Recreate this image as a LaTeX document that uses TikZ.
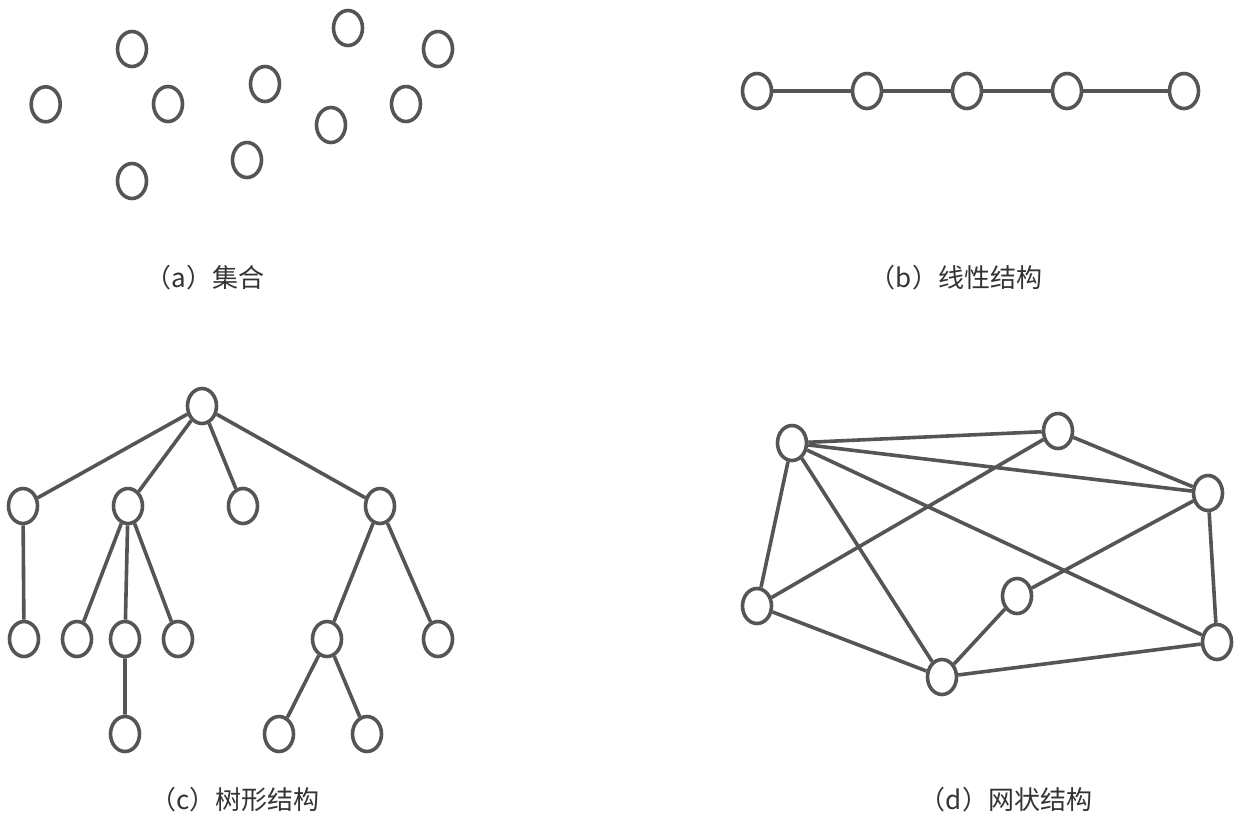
\documentclass[tikz,border=0pt]{standalone}
\usepackage{fontspec}
\newfontfamily\cjk{Noto Sans CJK SC}
\definecolor{ln}{HTML}{555555}
\definecolor{tx}{HTML}{333333}
\tikzset{
  nd/.style={draw=ln, line width=3.6pt, ellipse, minimum width=29pt, minimum height=35pt, inner sep=0pt, fill=white},
  ed/.style={draw=ln, line width=3.6pt},
  lab/.style={text=tx, font=\cjk\fontsize{26}{30}\selectfont, inner sep=0pt}
}
\usetikzlibrary{shapes.geometric}
\begin{document}
\begin{tikzpicture}[x=1pt,y=-1pt]
\useasboundingbox (0,0) rectangle (1260,839);
% (a)
\node[nd] (a1) at (45.7,104.3) {};
\node[nd] (a2) at (132,49) {};
\node[nd] (a3) at (168,104) {};
\node[nd] (a4) at (132,181) {};
\node[nd] (a5) at (265,84) {};
\node[nd] (a6) at (247,160) {};
\node[nd] (a7) at (348,28) {};
\node[nd] (a8) at (331,125) {};
\node[nd] (a9) at (438,49) {};
\node[nd] (a10) at (406,104) {};
\node[lab] (la) at (205,278) {（a）集合};
% (b)
\node[nd] (b1) at (757,91) {};
\node[nd] (b2) at (867,91) {};
\node[nd] (b3) at (967,91) {};
\node[nd] (b4) at (1067,91) {};
\node[nd] (b5) at (1184,91) {};
\draw[ed] (b1) -- (b2) (b2) -- (b3) (b3) -- (b4) (b4) -- (b5);
\node[lab] (lb) at (956,278) {（b）线性结构};
% (c)
\node[nd] (r) at (202,406) {};
\node[nd] (c1) at (23,506) {};
\node[nd] (c2) at (128,506) {};
\node[nd] (c3) at (243,506) {};
\node[nd] (c4) at (380,506) {};
\node[nd] (d1) at (24,639) {};
\node[nd] (d2) at (77,639) {};
\node[nd] (d3) at (125,639) {};
\node[nd] (d4) at (178,639) {};
\node[nd] (d5) at (327,639) {};
\node[nd] (d6) at (438,639) {};
\node[nd] (e1) at (125,734) {};
\node[nd] (e2) at (279,734) {};
\node[nd] (e3) at (367,734) {};
\draw[ed] (r) -- (c1) (r) -- (c2) (r) -- (c3) (r) -- (c4)
  (c1) -- (d1) (c2) -- (d2) (c2) -- (d3) (c2) -- (d4)
  (c4) -- (d5) (c4) -- (d6) (d3) -- (e1) (d5) -- (e2) (d5) -- (e3);
\node[lab] (lc) at (235,800) {（c）树形结构};
% (d)
\node[nd] (A) at (792,443) {};
\node[nd] (B) at (1058,431) {};
\node[nd] (C) at (1208,493) {};
\node[nd] (D) at (757,606) {};
\node[nd] (E) at (1017,596) {};
\node[nd] (F) at (942,677) {};
\node[nd] (G) at (1217,642) {};
\begin{scope}[on background layer/.try]
\end{scope}
\draw[ed] (A) -- (B) (A) -- (C) (A) -- (D) (A) -- (F) (A) -- (G)
  (B) -- (C) (B) -- (D) (C) -- (E) (C) -- (G) (D) -- (F) (E) -- (F) (F) -- (G);
\node[lab] (ld) at (1006,800) {（d）网状结构};
\end{tikzpicture}
\end{document}
